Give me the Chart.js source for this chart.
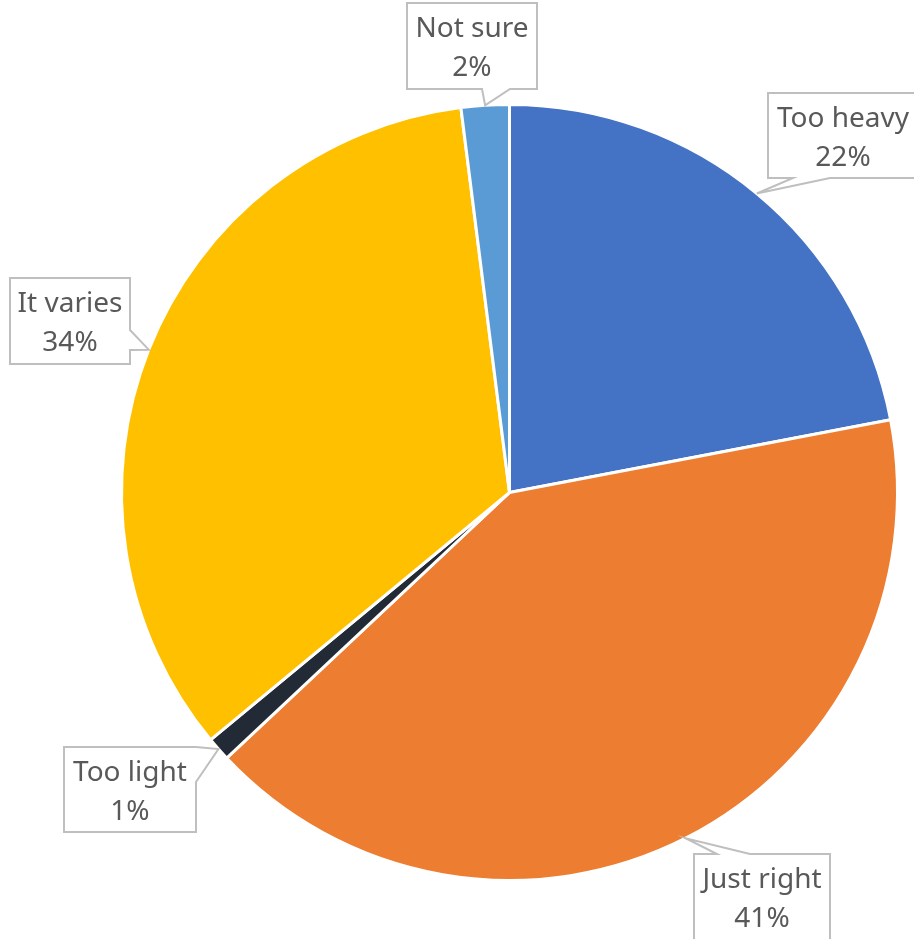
<!DOCTYPE html>
<html>
<head>
<meta charset="utf-8">
<script src="https://cdn.jsdelivr.net/npm/chart.js@4"></script>
<style>
  html, body { margin: 0; padding: 0; background: #fff; }
  #wrap { width: 914px; height: 939px; }
</style>
</head>
<body>
<div id="wrap"><canvas id="weight" width="914" height="939"></canvas></div>
<script>
var answers = ['Too heavy', 'Just right', 'Too light', 'It varies', 'Not sure'];
var percents = [22, 41, 1, 34, 2];
var sliceColors = ['#4472C4', '#ED7D31', '#222A35', '#FFC000', '#5B9BD5'];

// callout boxes: box rect, which edge the pointer leaves from, and where on that edge
var callouts = [
    { x: 768, y: 93, w: 150, h: 85, side: 'bottom', a: 793, b: 830 },
    { x: 694, y: 854, w: 136, h: 92, side: 'top', a: 717, b: 750 },
    { x: 64, y: 747, w: 132, h: 85, side: 'right', a: 747, b: 782 },
    { x: 10, y: 278, w: 120, h: 86, side: 'right', a: 330, b: 350 },
    { x: 407, y: 3, w: 130, h: 86, side: 'bottom', a: 482, b: 510 }
];

var calloutPlugin = {
    id: 'callouts',
    afterDraw: function (chart) {
        var ctx = chart.ctx;
        var meta = chart.getDatasetMeta(0);
        meta.data.forEach(function (arc, i) {
            var c = callouts[i];
            var mid = (arc.startAngle + arc.endAngle) / 2;
            var tx = arc.x + Math.cos(mid) * arc.outerRadius;
            var ty = arc.y + Math.sin(mid) * arc.outerRadius;
            var x = c.x, y = c.y, r = c.x + c.w, b = c.y + c.h;
            var pts = [[x, y]];
            if (c.side === 'top') pts.push([c.a, y], [tx, ty], [c.b, y]);
            pts.push([r, y]);
            if (c.side === 'right') pts.push([r, c.a], [tx, ty], [r, c.b]);
            pts.push([r, b]);
            if (c.side === 'bottom') pts.push([c.b, b], [tx, ty], [c.a, b]);
            pts.push([x, b]);
            if (c.side === 'left') pts.push([x, c.b], [tx, ty], [x, c.a]);

            ctx.save();
            ctx.beginPath();
            pts.forEach(function (p, k) {
                if (k === 0) ctx.moveTo(p[0], p[1]); else ctx.lineTo(p[0], p[1]);
            });
            ctx.closePath();
            ctx.fillStyle = '#ffffff';
            ctx.fill();
            ctx.lineWidth = 2;
            ctx.strokeStyle = '#BFBFBF';
            ctx.stroke();

            ctx.fillStyle = '#595959';
            ctx.font = '28px "Noto Sans", sans-serif';
            ctx.textAlign = 'center';
            ctx.textBaseline = 'middle';
            var cx = x + c.w / 2;
            var cy = y + 45;
            ctx.fillText(chart.data.labels[i], cx, cy - 19);
            ctx.fillText(chart.data.datasets[0].data[i] + '%', cx, cy + 20);
            ctx.restore();
        });
    }
};

var ctx = document.getElementById('weight').getContext('2d');
var pieChart = new Chart(ctx, {
    type: 'pie',
    data: {
        labels: answers,
        datasets: [
            {
                data: percents,
                backgroundColor: sliceColors,
                borderColor: '#ffffff',
                borderWidth: 3,
            },
        ],
    },
    options: {
        responsive: false,
        animation: false,
        layout: {
            padding: { left: 120, right: 15, top: 103, bottom: 57 },
        },
        plugins: {
            legend: { display: false },
            tooltip: { enabled: false },
        },
    },
    plugins: [calloutPlugin],
});
</script>
</body>
</html>
